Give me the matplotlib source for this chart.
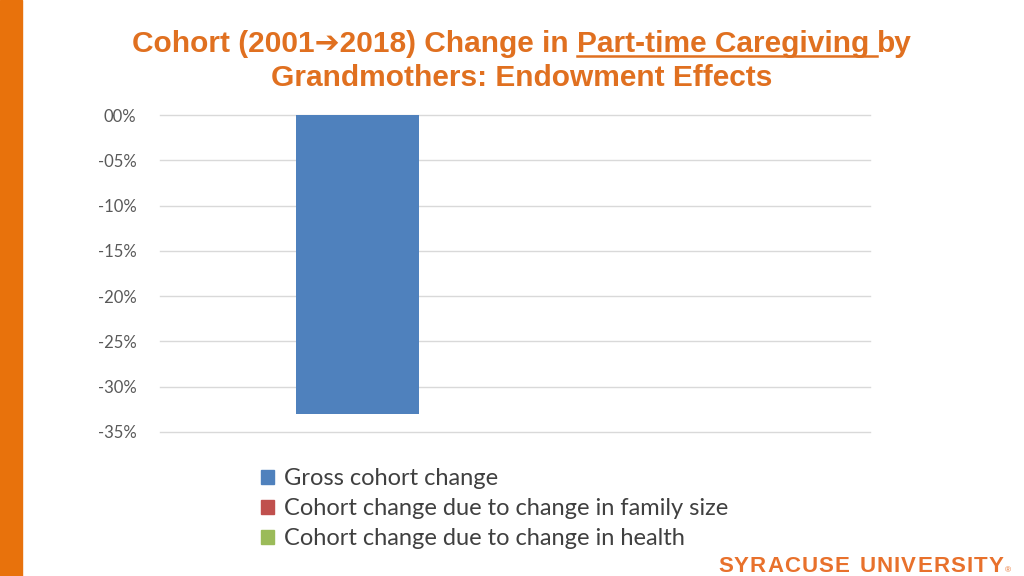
import matplotlib.pyplot as plt
from matplotlib.patches import Rectangle
from matplotlib.lines import Line2D

series = ['Gross cohort change',
          'Cohort change due to change in family size',
          'Cohort change due to change in health']
values = [-0.33, 0.0, 0.0]
colors = ['#4F81BD', '#C0504D', '#9BBB59']
ticks = [0, -0.05, -0.10, -0.15, -0.20, -0.25, -0.30, -0.35]
tick_labels = ['00%', '-05%', '-10%', '-15%', '-20%', '-25%', '-30%', '-35%']

orange = '#E07020'
title_font = ['Liberation Sans', 'DejaVu Sans']

fig = plt.figure(figsize=(10.24, 5.76), dpi=100)
fig.patches.append(Rectangle((0, 0), 22 / 1024, 1, transform=fig.transFigure,
                             color='#E8720C', zorder=0))

# plot area: x 160..870, y 115..432 (pixels from top)
ax = fig.add_axes([160 / 1024, 1 - 432 / 576, 710 / 1024, 317 / 576])
pos = [0, 1, 2]
ax.bar(pos, values, width=0.8, color=colors, zorder=3)
ax.set_xlim(-1.285, 3.333)
ax.set_ylim(-0.35, 0)
ax.set_yticks(ticks)
ax.set_yticklabels(tick_labels)
ax.set_xticks([])
ax.grid(axis='y', color='#D9D9D9', linewidth=1, zorder=0)
for gl in ax.get_ygridlines():
    gl.set_clip_on(False)
for s in ax.spines.values():
    s.set_visible(False)
ax.tick_params(axis='y', length=0, pad=17, labelsize=12, labelcolor='#595959')
for lab in ax.get_yticklabels():
    lab.set_fontfamily('Lato')

# title, line 1 in pieces so the middle part can be underlined
fig.canvas.draw()
renderer = fig.canvas.get_renderer()
parts = ['Cohort (2001\u27942018) Change in ', 'Part-time Caregiving ', 'by']
fs = 21.5
objs = []
for p in parts:
    t = fig.text(0, 0, p, fontsize=fs, fontweight='bold', color=orange,
                 family=title_font, va='baseline')
    objs.append(t)
widths = [o.get_window_extent(renderer).width for o in objs]
total = sum(widths)
x0 = 522 - total / 2
y_base = 576 - 52
x = x0
for o, w in zip(objs, widths):
    o.set_position((x / 1024, y_base / 576))
    x += w
ux0 = x0 + widths[0]
ux1 = ux0 + widths[1]
fig.lines.append(Line2D([ux0 / 1024, ux1 / 1024], [(y_base - 3.5) / 576] * 2,
                        transform=fig.transFigure, color=orange, linewidth=1.8))
fig.text(522 / 1024, 1 - 86 / 576, 'Grandmothers: Endowment Effects',
         fontsize=fs, fontweight='bold', color=orange, family=title_font,
         ha='center', va='baseline')

# legend
handles = [Rectangle((0, 0), 1, 1, color=c) for c in colors]
fig.legend(handles, series, loc='upper left', bbox_to_anchor=(252 / 1024, 1 - 459 / 576),
           frameon=False, prop={'family': 'Lato', 'size': 17},
           labelcolor='#404040', handlelength=0.55, handleheight=0.55,
           handletextpad=0.4, labelspacing=0.38, borderaxespad=0)

# university wordmark, letters spaced out by hand
logo = 'SYRACUSE UNIVERSITY'
logo_font = ['Liberation Sans Narrow', 'Liberation Sans']
chars = []
for ch in logo:
    t = fig.text(0, 0, ch, fontsize=16, fontweight='bold', color='#E8712C',
                 family=logo_font, va='baseline')
    chars.append(t)
fig.canvas.draw()
cw = [c.get_window_extent(renderer).width if c.get_text() != ' ' else 8 for c in chars]
track = (1003 - 718 - sum(cw)) / (len(chars) - 1)
x = 718
for c, w in zip(chars, cw):
    c.set_position((x / 1024, (576 - 572) / 576))
    x += w + track
fig.text(1005 / 1024, (576 - 572) / 576, '\u00ae', fontsize=6, color='#E8712C',
         family=title_font, va='baseline')

fig.savefig('out.png', dpi=100)
